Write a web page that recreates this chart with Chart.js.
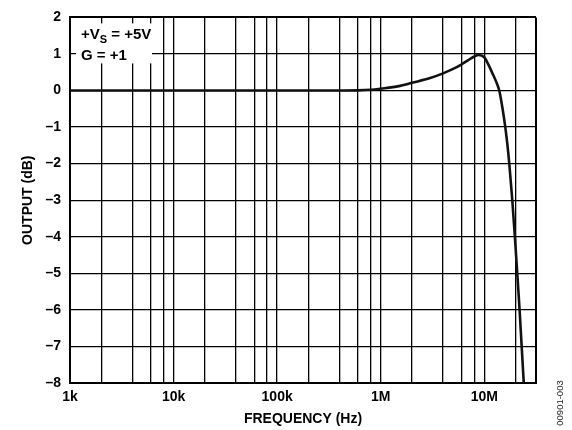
<!DOCTYPE html>
<html><head><meta charset="utf-8">
<script src="https://cdn.jsdelivr.net/npm/chart.js@4.4.1/dist/chart.umd.min.js"></script>
<style>html,body{margin:0;padding:0;background:#fff}#wrap{width:572px;height:430px;position:relative}</style>
</head><body><div id="wrap"><canvas id="c"></canvas></div>
<script>
// ---- data ----
const freqHz = [1e3, 1e4, 1e5, 3e5, 6e5, 8e5, 1e6, 1.5e6, 2e6, 3e6, 4e6, 5e6, 6e6, 7e6, 8e6, 8.8e6, 1e7, 1.1e7, 1.2e7, 1.3e7, 1.396e7, 1.503e7, 1.596e7, 1.676e7, 1.745e7, 1.865e7, 1.975e7, 2.084e7, 2.194e7, 2.298e7, 2.408e7];
const outputDb = [0, 0, 0, 0, 0.005, 0.02, 0.05, 0.12, 0.21, 0.34, 0.47, 0.59, 0.71, 0.83, 0.93, 0.97, 0.91, 0.7, 0.47, 0.25, 0.0, -0.5, -1.0, -1.5, -2, -3, -4, -5, -6, -7, -8];
const decadeTicks = [1e3, 1e4, 1e5, 1e6, 1e7];
const decadeLabels = ['1k', '10k', '100k', '1M', '10M'];
const gridMultiples = [1, 2, 4, 6, 8];
const xMin = 1e3, xMax = 3.16e7;
const yTicks = [2, 1, 0, -1, -2, -3, -4, -5, -6, -7, -8];
const yMin = -8, yMax = 2;
const xTitle = 'FREQUENCY (Hz)';
const yTitle = 'OUTPUT (dB)';
const figureId = '00901-003';

const FONT = '"Liberation Sans", Arial, sans-serif';

const xGrid = [];
decadeTicks.forEach(d => gridMultiples.forEach(m => { if (m * d < xMax) xGrid.push(m * d); }));
xGrid.push(xMax);

const notePlugin = {
  id: 'note',
  afterDraw(chart) {
    const {ctx, chartArea: a} = chart;
    ctx.save();
    ctx.fillStyle = '#fff';
    ctx.fillRect(a.left + 6, a.top + 6, 76, 40);
    ctx.fillStyle = '#000';
    ctx.textBaseline = 'alphabetic';
    ctx.textAlign = 'left';
    let x = a.left + 11, y1 = a.top + 21.5, y2 = a.top + 42.5;
    ctx.font = 'bold 15px ' + FONT;
    ctx.fillText('+V', x, y1);
    x += ctx.measureText('+V').width;
    ctx.font = 'bold 11px ' + FONT;
    ctx.fillText('S', x, y1 + 4);
    x += ctx.measureText('S').width;
    ctx.font = 'bold 15px ' + FONT;
    ctx.fillText(' = +5V', x, y1);
    ctx.fillText('G = +1', a.left + 11, y2);
    // figure id, rotated
    ctx.translate(chart.width - 12, a.bottom + 20);
    ctx.rotate(-Math.PI / 2);
    ctx.textAlign = 'center';
    ctx.textBaseline = 'middle';
    ctx.font = '9.5px ' + FONT;
    ctx.fillStyle = '#222';
    ctx.fillText(figureId, 0, 0);
    ctx.restore();
  }
};

const edgeW = (isEdge) => isEdge ? 2 : 1.3;

new Chart(document.getElementById('c'), {
  type: 'line',
  data: {
    datasets: [{
      data: freqHz.map((f, i) => ({x: f, y: outputDb[i]})),
      borderColor: '#111',
      borderWidth: 2.6,
      pointRadius: 0,
      fill: false,
      cubicInterpolationMode: 'monotone'
    }]
  },
  options: {
    responsive: true,
    maintainAspectRatio: false,
    animation: false,
    layout: {padding: {left: 0, top: 16, right: 36, bottom: 0}},
    plugins: {legend: {display: false}, tooltip: {enabled: false}},
    scales: {
      x: {
        type: 'logarithmic',
        min: xMin, max: xMax,
        afterBuildTicks: s => { s.ticks = xGrid.map(v => ({value: v})); },
        afterFit: s => { s.height = 47; },
        ticks: {
          autoSkip: false, maxRotation: 0, padding: 6, color: '#000',
          font: {family: FONT, size: 14, weight: 'bold'},
          callback: v => { const i = decadeTicks.indexOf(v); return i >= 0 ? decadeLabels[i] : ''; }
        },
        grid: {
          color: '#000', drawTicks: false,
          lineWidth: c => edgeW(c.tick && (c.tick.value === xMin || c.tick.value === xMax))
        },
        border: {color: '#000', width: 2},
        title: {display: true, text: xTitle, color: '#000', font: {family: FONT, size: 14, weight: 'bold'}, padding: {top: 0, bottom: 2}}
      },
      y: {
        min: yMin, max: yMax,
        afterBuildTicks: s => { s.ticks = yTicks.map(v => ({value: v})); },
        afterFit: s => { s.width = 70; },
        ticks: {
          padding: 9, color: '#000',
          font: {family: FONT, size: 14, weight: 'bold'},
          callback: v => v < 0 ? '\u2013' + Math.abs(v) : String(v)
        },
        grid: {
          color: '#000', drawTicks: false,
          lineWidth: c => edgeW(c.tick && (c.tick.value === yMin || c.tick.value === yMax))
        },
        border: {color: '#000', width: 2},
        title: {display: true, text: yTitle, color: '#000', font: {family: FONT, size: 14, weight: 'bold'}, padding: {top: 20, bottom: 0}}
      }
    }
  },
  plugins: [notePlugin]
});
</script>
</body></html>
